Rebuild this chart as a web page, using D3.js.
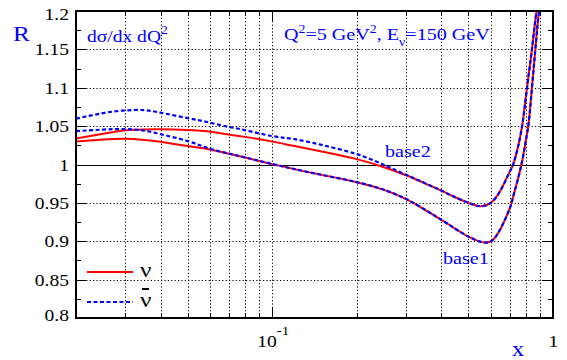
<!DOCTYPE html>
<html><head><meta charset="utf-8">
<script src="https://cdn.jsdelivr.net/npm/d3@7"></script>
<style>body{margin:0;background:#fff}svg{display:block}
text{font-family:"Liberation Serif","Times New Roman","DejaVu Serif",serif;}</style>
</head><body>
<svg id="c" width="567" height="360"></svg>
<script>
// ---- data ----
const xs = [0.02,0.025,0.03,0.035,0.04,0.05,0.06,0.07,0.08,0.1,0.12,0.15,0.2,0.25,0.3,0.35,0.4,0.45,0.5,0.55,0.6,0.65,0.7,0.72,0.75,0.78,0.8,0.82,0.84,0.86,0.88,0.9,0.92];
// neutrino, base2 (upper)
const nuBase2 = [1.034,1.040,1.0445,1.0457,1.0458,1.0448,1.0427,1.039,1.036,1.0298,1.024,1.017,1.007,0.9965,0.986,0.9755,0.966,0.957,0.950,0.9457,0.950,0.966,0.990,0.9993,1.0226,1.055,1.087,1.118,1.148,1.18,1.21,1.24,1.27];
// neutrino, base1 (lower)
const nuBase1 = [1.030,1.0325,1.0335,1.032,1.0295,1.024,1.0195,1.014,1.009,1.0005,0.994,0.9865,0.977,0.967,0.955,0.941,0.928,0.916,0.906,0.8995,0.8997,0.916,0.942,0.957,0.981,1.0078,1.031,1.0555,1.097,1.139,1.18,1.213,1.245];
// antineutrino, base2 (upper)
const nubarBase2 = [1.0597,1.067,1.0705,1.0708,1.0675,1.0605,1.0545,1.049,1.0448,1.037,1.033,1.0255,1.0135,0.9995,0.9865,0.9757,0.966,0.957,0.950,0.9457,0.950,0.966,0.990,0.9993,1.0226,1.055,1.087,1.118,1.148,1.18,1.21,1.24,1.27];
// antineutrino, base1 (lower)
const nubarBase1 = [1.0435,1.0455,1.0462,1.0442,1.0395,1.0305,1.0205,1.0143,1.0092,1.0007,0.994,0.9865,0.977,0.967,0.955,0.941,0.928,0.916,0.906,0.8995,0.8997,0.916,0.942,0.957,0.981,1.0078,1.031,1.0555,1.097,1.139,1.18,1.213,1.245];

const yTicks = [0.8,0.85,0.9,0.95,1,1.05,1.1,1.15,1.2];
const yTickLabels = ["0.8","0.85","0.9","0.95","1","1.05","1.1","1.15","1.2"];
const yMinor = [0.825,0.875,0.925,0.975,1.025,1.075,1.125,1.175];
const xGrid = [0.03,0.04,0.05,0.06,0.07,0.08,0.09,0.1,0.2,0.3,0.4,0.5,0.6,0.7,0.8,0.9];
const xMajor = [0.1,1];

// ---- layout ----
const L=76, R=553, T=11, B=318;
const svg = d3.select("#c");
const x = d3.scaleLog().domain([0.02,1]).range([L,R]);
const y = d3.scaleLinear().domain([0.8,1.2]).range([B,T]);
const SX = 1.15;

svg.append("defs").append("clipPath").attr("id","clip")
  .append("rect").attr("x",L).attr("y",T).attr("width",R-L).attr("height",B-T);

// grid
const grid = svg.append("g").attr("stroke","#000").attr("stroke-width",1).attr("stroke-dasharray","1.2,2.2");
grid.selectAll(".gx").data(xGrid).join("line")
  .attr("x1",d=>Math.round(x(d))+0.5).attr("x2",d=>Math.round(x(d))+0.5).attr("y1",T).attr("y2",B);
grid.selectAll(".gy").data(yTicks.filter(v=>v>0.8&&v<1.2&&v!==1)).join("line")
  .attr("x1",L).attr("x2",R).attr("y1",d=>Math.round(y(d))+0.5).attr("y2",d=>Math.round(y(d))+0.5);

// y = 1 reference line
svg.append("line").attr("x1",L).attr("x2",R).attr("y1",Math.round(y(1))+0.5).attr("y2",Math.round(y(1))+0.5)
  .attr("stroke","#000").attr("stroke-width",1.2);

// ticks
const tk = svg.append("g").attr("stroke","#000").attr("stroke-width",1);
yMinor.forEach(v=>{
  const yy=Math.round(y(v))+0.5;
  tk.append("line").attr("x1",L).attr("x2",L+5).attr("y1",yy).attr("y2",yy);
  tk.append("line").attr("x1",R-5).attr("x2",R).attr("y1",yy).attr("y2",yy);
});
yTicks.forEach(v=>{
  const yy=Math.round(y(v))+0.5;
  tk.append("line").attr("x1",L).attr("x2",L+10).attr("y1",yy).attr("y2",yy);
  tk.append("line").attr("x1",R-10).attr("x2",R).attr("y1",yy).attr("y2",yy);
});
xGrid.forEach(v=>{
  const xx=Math.round(x(v))+0.5;
  tk.append("line").attr("x1",xx).attr("x2",xx).attr("y1",B).attr("y2",B-5);
  tk.append("line").attr("x1",xx).attr("x2",xx).attr("y1",T).attr("y2",T+5);
});
xMajor.forEach(v=>{
  const xx=Math.round(x(v))+0.5;
  tk.append("line").attr("x1",xx).attr("x2",xx).attr("y1",B).attr("y2",B-10);
  tk.append("line").attr("x1",xx).attr("x2",xx).attr("y1",T).attr("y2",T+10);
});

// curves
const line = d3.line().x((d,i)=>x(xs[i])).y(d=>y(d)).curve(d3.curveNatural);
const cg = svg.append("g").attr("clip-path","url(#clip)").attr("fill","none");
[nuBase2,nuBase1].forEach(s=>cg.append("path").attr("d",line(s)).attr("stroke","#ff0000").attr("stroke-width",2));
[nubarBase2,nubarBase1].forEach(s=>cg.append("path").attr("d",line(s)).attr("stroke","#0000ff").attr("stroke-width",2.2).attr("stroke-dasharray","4,2.5"));

// frame
svg.append("rect").attr("x",L).attr("y",T).attr("width",R-L).attr("height",B-T)
  .attr("fill","none").attr("stroke","#000").attr("stroke-width",2);

// text helper
function txt(px,py,size,color,anchor){
  return svg.append("text").attr("transform",`translate(${px},${py}) scale(${SX},1)`)
    .attr("font-size",size).attr("fill",color).attr("text-anchor",anchor||"start");
}

// y tick labels
yTicks.forEach((v,i)=>{
  let yy=y(v)+6;
  if(v===1.2) yy+=3;
  if(v===0.8) yy-=3;
  txt(69,yy,17,"#000","end").text(yTickLabels[i]);
});
// x tick labels
const t10 = txt(x(0.1)-15,346.7,17,"#000","start");
t10.append("tspan").text("10");
t10.append("tspan").attr("font-size",13).attr("font-weight","bold").attr("dy",-12).text("-");
t10.append("tspan").attr("font-size",13).text("1");
txt(x(1)+0.5,346.7,17,"#000","middle").text("1");

// axis titles
txt(13,41,22,"#0000ff").text("R");
txt(512,356,21,"#0000ff").text("x");

// annotations
const t1 = txt(87,41.5,17,"#0000ff");
t1.append("tspan").text("dσ/dx dQ");
t1.append("tspan").attr("font-size",12).attr("dy",-8).text("2");

const t2 = txt(284,39.5,17.5,"#0000ff");
t2.append("tspan").text("Q");
t2.append("tspan").attr("font-size",12).attr("dy",-7).text("2");
t2.append("tspan").attr("dy",7).text("=5 GeV");
t2.append("tspan").attr("font-size",12).attr("dy",-7).text("2");
t2.append("tspan").attr("dy",7).text(", E");
t2.append("tspan").attr("font-size",12).attr("dy",6).text("ν");
t2.append("tspan").attr("dy",-6).text("=150 GeV");

txt(385,156.5,17.5,"#0000ff").text("base2");
txt(443,264,17.5,"#0000ff").text("base1");

// legend
svg.append("line").attr("x1",87).attr("x2",133).attr("y1",272).attr("y2",272).attr("stroke","#ff0000").attr("stroke-width",2);
svg.append("line").attr("x1",87).attr("x2",133).attr("y1",302).attr("y2",302).attr("stroke","#0000ff").attr("stroke-width",2.2).attr("stroke-dasharray","4,2.5");
txt(140,276.5,22,"#000").text("ν");
txt(140,306.5,22,"#000").text("ν");
svg.append("line").attr("x1",142).attr("x2",149).attr("y1",289).attr("y2",289).attr("stroke","#000").attr("stroke-width",2);
</script>
</body></html>
